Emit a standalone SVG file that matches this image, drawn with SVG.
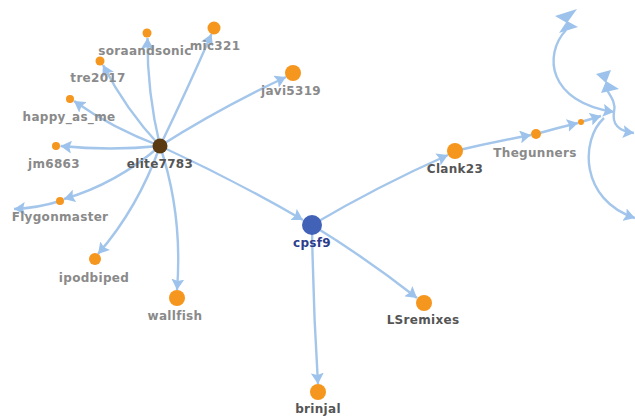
<svg xmlns="http://www.w3.org/2000/svg" width="635" height="417" viewBox="0 0 635 417">
<style>
.edge{fill:none;stroke:#a4c6eb;stroke-width:2.4}
.head{fill:#9dc3ec}
.leaf{fill:#f5961e}
.lbl{font-family:"DejaVu Sans","Liberation Sans",sans-serif;font-weight:bold;font-size:12px;letter-spacing:0.3px;text-anchor:middle;fill:#8a8a8a}
.dark{fill:#555555}
.blue{fill:#2c3e8c}
</style>
<defs>
<marker id="arr" viewBox="0 -6.5 11 13" refX="11" refY="0" markerWidth="11" markerHeight="13" markerUnits="userSpaceOnUse" orient="auto">
<path class="head" d="M0,-6.5L11,0L0,6.5L2,0Z"/>
</marker>
</defs>
<rect width="635" height="417" fill="#ffffff"/>
<g id="connectors">
<path class="edge" marker-end="url(#arr)" d="M160,146 Q147,92 147.5,38"/>
<path class="edge" marker-end="url(#arr)" d="M160,146 Q188,88 211.5,34"/>
<path class="edge" marker-end="url(#arr)" d="M160,146 Q126,110 103,65"/>
<path class="edge" marker-end="url(#arr)" d="M160,146 Q112,128 74,101"/>
<path class="edge" marker-end="url(#arr)" d="M160,146 Q110,151 60.5,146"/>
<path class="edge" marker-end="url(#arr)" d="M160,146 Q220,108 286,77"/>
<path class="edge" marker-end="url(#arr)" d="M160,146 Q116,184 64,199"/>
<path class="edge" marker-end="url(#arr)" d="M160,146 Q138,208 98,254"/>
<path class="edge" marker-end="url(#arr)" d="M160,146 Q183,215 177,290"/>
<path class="edge" marker-end="url(#arr)" d="M160,146 Q234,180 303,220"/>
<path class="edge" marker-end="url(#arr)" d="M60,201 Q38,208 14,209"/>
<path class="edge" marker-end="url(#arr)" d="M312,225 Q378,186 448,155"/>
<path class="edge" marker-end="url(#arr)" d="M312,225 Q366,258 417,298"/>
<path class="edge" marker-end="url(#arr)" d="M312,225 Q313,305 318,384"/>
<path class="edge" marker-end="url(#arr)" d="M455,151 Q493,142 531,135"/>
<path class="edge" marker-end="url(#arr)" d="M536,134 Q557,128 578,123"/>
<path class="edge" marker-end="url(#arr)" d="M581,122 L601,116"/>
<path class="edge" marker-end="url(#arr)" d="M566,30 C543,55 548,102 614,112"/>
<path class="edge" d="M607,90 C612,98 616,104 614,112"/>
<path class="edge" marker-end="url(#arr)" d="M614,112 C612,124 618,131 634,133"/>
<path class="edge" marker-end="url(#arr)" d="M604,118 C580,140 580,200 635,218"/>
<polygon class="head" points="555,16 577,9 567,23"/>
<polygon class="head" points="559,33 578,27 567,21"/>
<polygon class="head" points="596,74 611,70 606,83"/>
<polygon class="head" points="601,93 619,89 606,81"/>
</g>
<g id="node-elite7783"><circle cx="160" cy="146" r="7.5" fill="#5b3a12"/><text class="lbl dark" x="160" y="168">elite7783</text></g>
<g id="node-cpsf9"><circle cx="312" cy="225" r="10" fill="#4262b8"/><text class="lbl blue" x="312" y="247">cpsf9</text></g>
<g id="node-soraandsonic"><circle class="leaf" cx="147" cy="33" r="4.5"/><text class="lbl" x="145" y="55">soraandsonic</text></g>
<g id="node-mic321"><circle class="leaf" cx="214" cy="28" r="6.5"/><text class="lbl" x="215" y="50">mic321</text></g>
<g id="node-tre2017"><circle class="leaf" cx="100" cy="61" r="4.5"/><text class="lbl" x="98" y="82">tre2017</text></g>
<g id="node-javi5319"><circle class="leaf" cx="293" cy="73" r="8"/><text class="lbl" x="291" y="95">javi5319</text></g>
<g id="node-happy_as_me"><circle class="leaf" cx="70" cy="99" r="4"/><text class="lbl" x="69" y="121">happy_as_me</text></g>
<g id="node-jm6863"><circle class="leaf" cx="56" cy="146" r="4"/><text class="lbl" x="54" y="168">jm6863</text></g>
<g id="node-Flygonmaster"><circle class="leaf" cx="60" cy="201" r="4"/><text class="lbl" x="60" y="221">Flygonmaster</text></g>
<g id="node-ipodbiped"><circle class="leaf" cx="95" cy="259" r="6"/><text class="lbl" x="94" y="282">ipodbiped</text></g>
<g id="node-wallfish"><circle class="leaf" cx="177" cy="298" r="8"/><text class="lbl" x="175" y="320">wallfish</text></g>
<g id="node-Clank23"><circle class="leaf" cx="455" cy="151" r="8"/><text class="lbl dark" x="455" y="173">Clank23</text></g>
<g id="node-Thegunners"><circle class="leaf" cx="536" cy="134" r="5"/><text class="lbl" x="535" y="157">Thegunners</text></g>
<g id="node-small"><circle class="leaf" cx="581" cy="122" r="3"/></g>
<g id="node-LSremixes"><circle class="leaf" cx="424" cy="303" r="8"/><text class="lbl dark" x="423" y="324">LSremixes</text></g>
<g id="node-brinjal"><circle class="leaf" cx="318" cy="392" r="8"/><text class="lbl dark" x="318" y="413">brinjal</text></g>
</svg>
